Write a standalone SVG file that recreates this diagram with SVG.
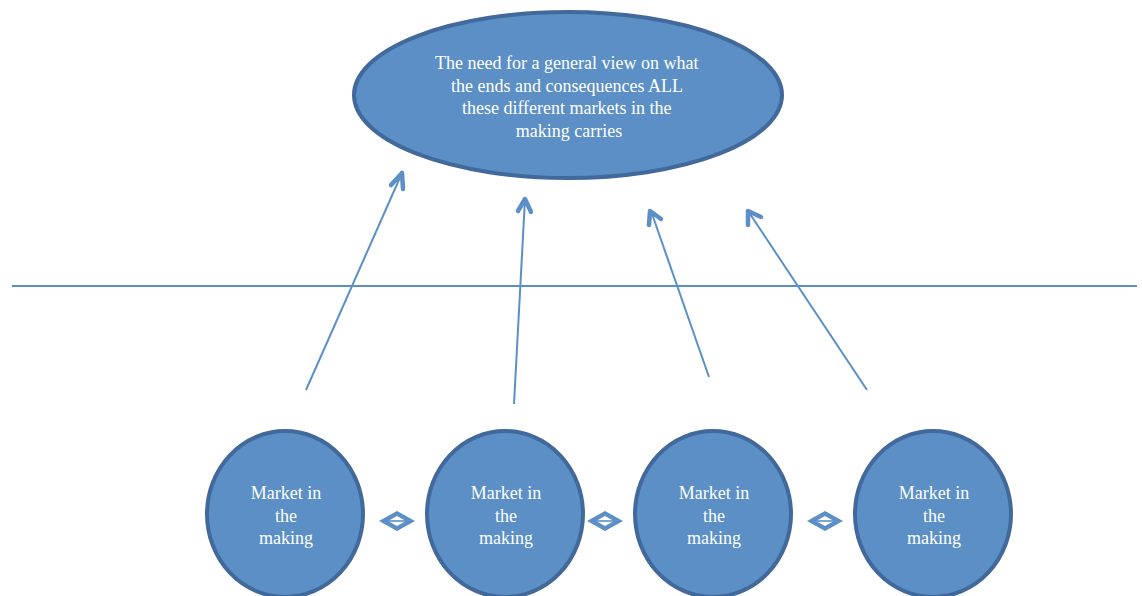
<svg xmlns="http://www.w3.org/2000/svg" width="1142" height="596" viewBox="0 0 1142 596">
  <style>
    .node { fill: #5b8fc6; stroke: #41699b; stroke-width: 4; }
    .label { font-family: "Liberation Serif", "DejaVu Serif", serif; font-size: 18px; fill: #ffffff; text-anchor: middle; }
    .conn { stroke: #5b8fc6; stroke-width: 2; fill: none; }
    .head { stroke: #5b8fc6; stroke-width: 4.5; fill: none; stroke-linecap: round; stroke-linejoin: round; }
  </style>
  <defs>
    <g id="link">
      <polygon points="-18,0 0,-10 18,0 0,10" fill="#5b8fc6"/>
      <polygon points="-9,0 0,-5 9,0 0,5" fill="#ffffff"/>
      <line x1="-9" y1="0" x2="9" y2="0" stroke="#5b8fc6" stroke-width="1.6"/>
    </g>
  </defs>

  <rect width="1142" height="596" fill="#ffffff"/>

  <g id="connectors">
    <line x1="12" y1="286" x2="1137" y2="286" class="conn"/>
    <line x1="306" y1="390" x2="402" y2="173" class="conn" stroke-width="1.6"/>
    <polyline points="391,185 402,173 403,189" class="head"/>
    <line x1="514" y1="404" x2="525" y2="199" class="conn" stroke-width="1.6"/>
    <polyline points="518,211 525,199 531,212" class="head"/>
    <line x1="709" y1="377" x2="651" y2="211" class="conn" stroke-width="1.6"/>
    <polyline points="649,225 650,211 661,219" class="head"/>
    <line x1="867" y1="390" x2="748" y2="211" class="conn" stroke-width="1.6"/>
    <polyline points="748,225 748,211 761,217" class="head"/>
    <use href="#link" x="397" y="521"/>
    <use href="#link" x="605" y="521"/>
    <use href="#link" x="825" y="521"/>
  </g>

  <g id="goal">
    <ellipse cx="568" cy="95" rx="214" ry="83" class="node"/>
    <text class="label">
      <tspan x="569" y="69">The need for a general view on what</tspan>
      <tspan x="569" y="92">the ends and consequences ALL</tspan>
      <tspan x="569" y="114">these different markets in the</tspan>
      <tspan x="569" y="137">making carries</tspan>
    </text>
  </g>

  <g id="market1">
    <ellipse cx="285" cy="514" rx="78" ry="83" class="node"/>
    <text class="label"><tspan x="286" y="499">Market in</tspan><tspan x="286" y="522">the</tspan><tspan x="286" y="544">making</tspan></text>
  </g>
  <g id="market2">
    <ellipse cx="505" cy="514" rx="78" ry="83" class="node"/>
    <text class="label"><tspan x="506" y="499">Market in</tspan><tspan x="506" y="522">the</tspan><tspan x="506" y="544">making</tspan></text>
  </g>
  <g id="market3">
    <ellipse cx="713" cy="514" rx="78" ry="83" class="node"/>
    <text class="label"><tspan x="714" y="499">Market in</tspan><tspan x="714" y="522">the</tspan><tspan x="714" y="544">making</tspan></text>
  </g>
  <g id="market4">
    <ellipse cx="933" cy="514" rx="78" ry="83" class="node"/>
    <text class="label"><tspan x="934" y="499">Market in</tspan><tspan x="934" y="522">the</tspan><tspan x="934" y="544">making</tspan></text>
  </g>
</svg>
